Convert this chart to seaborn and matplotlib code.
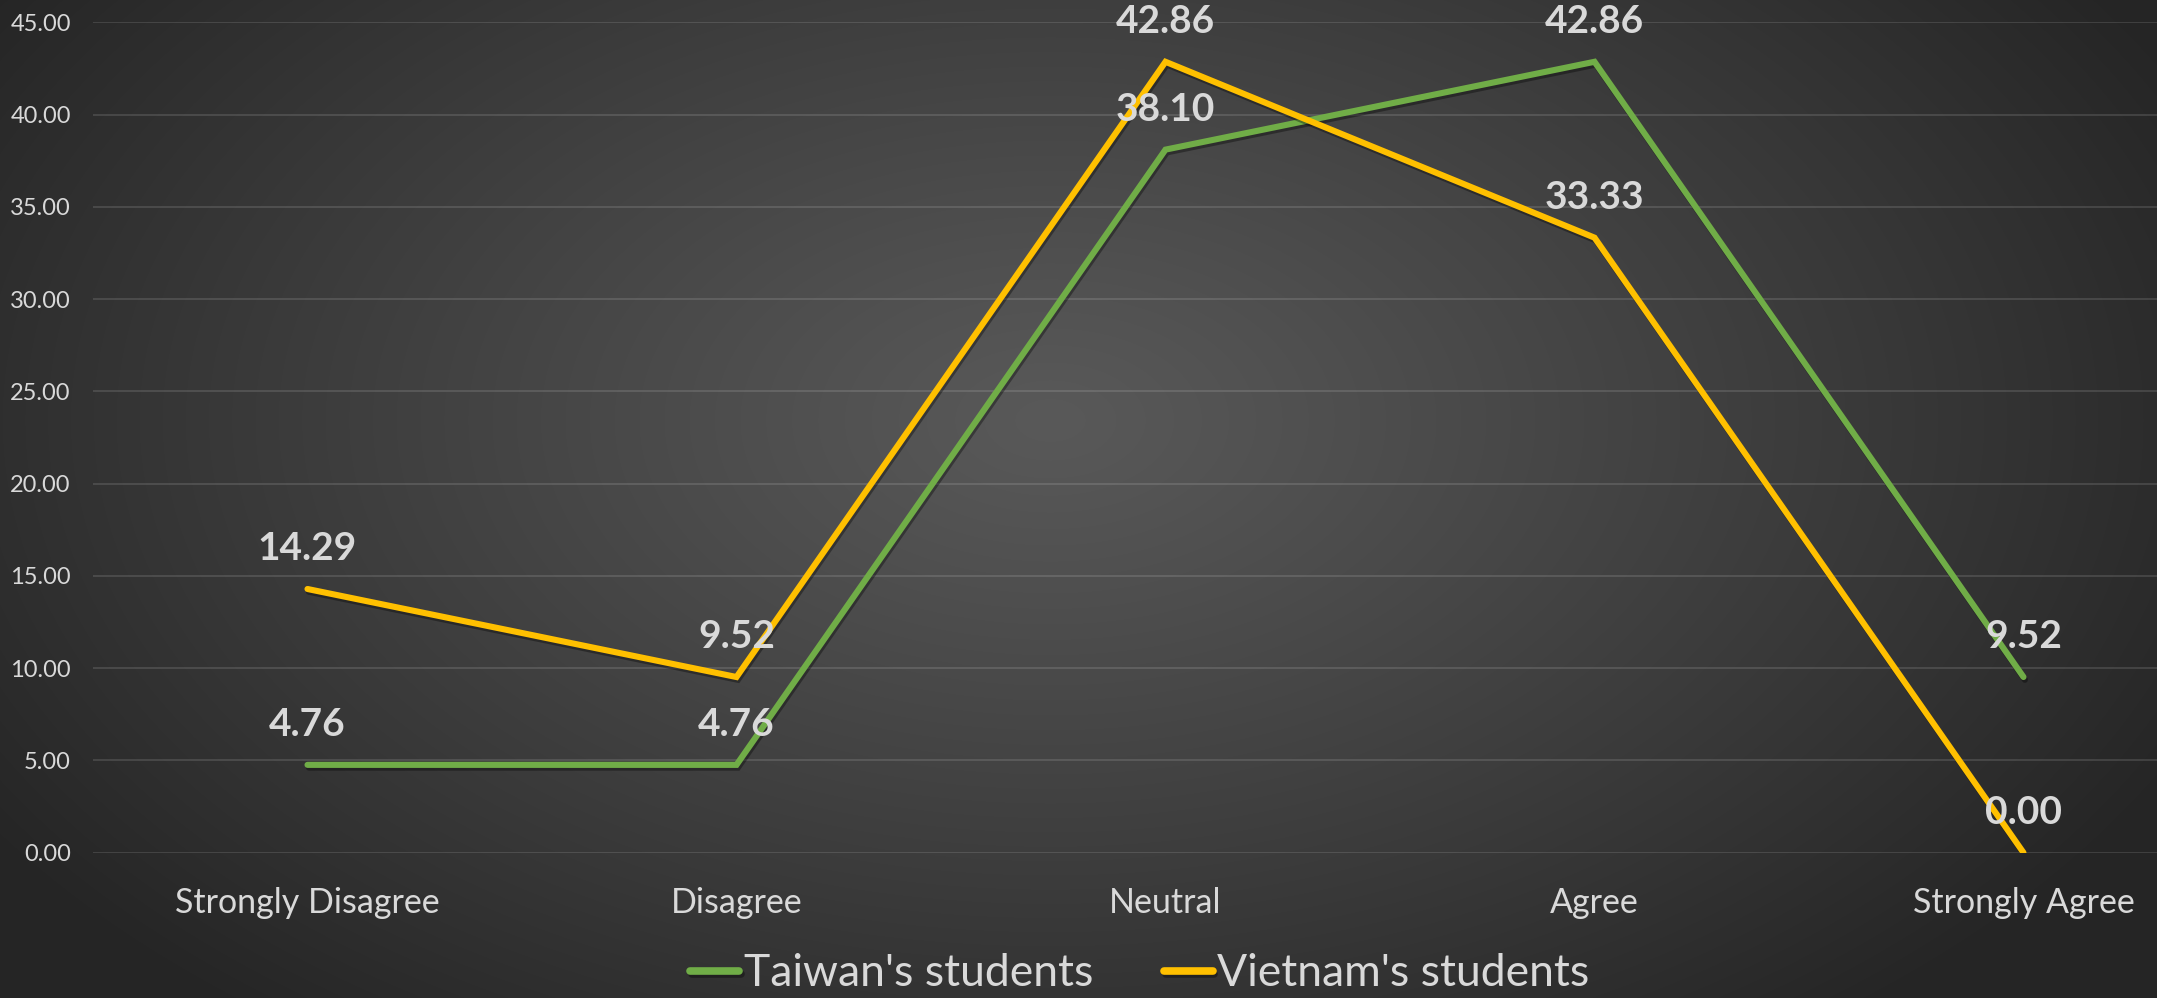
import numpy as np
import pandas as pd
import matplotlib
matplotlib.use("Agg")
import matplotlib.pyplot as plt
import matplotlib.patheffects as pe
import seaborn as sns

# data
categories = ["Strongly Disagree", "Disagree", "Neutral", "Agree", "Strongly Agree"]
taiwan = [4.76, 4.76, 38.10, 42.86, 9.52]
vietnam = [14.29, 9.52, 42.86, 33.33, 0.00]
series_names = ["Taiwan's students", "Vietnam's students"]
colors = ["#70AD47", "#FFC000"]

df = pd.DataFrame({
    "category": categories * 2,
    "x": list(range(len(categories))) * 2,
    "value": taiwan + vietnam,
    "series": [series_names[0]] * 5 + [series_names[1]] * 5,
})

sns.set_style("dark")
plt.rcParams["font.family"] = ["Lato", "DejaVu Sans"]

W, H = 2157, 998
fig = plt.figure(figsize=(W / 100, H / 100), dpi=100)

# radial gradient background
bg = fig.add_axes([0, 0, 1, 1], zorder=-10)
yy, xx = np.mgrid[0:H, 0:W]
r = np.sqrt(((xx - 1050) / 1250) ** 2 + ((yy - 420) / 760) ** 2)
r = np.clip(r, 0, 1)
c0, c1 = 0x59 / 255, 0x26 / 255
shade = c0 + (c1 - c0) * r ** 1.1
bg.imshow(np.dstack([shade] * 3), aspect="auto", extent=[0, 1, 0, 1], origin="upper")
bg.axis("off")

ax = fig.add_axes([93 / W, 145.3 / H, 2145 / W, 830.4 / H])
ax.patch.set_alpha(0)

sns.lineplot(data=df, x="x", y="value", hue="series", palette=colors,
             linewidth=4.4, ax=ax, legend=True, sort=False)
for line in ax.lines:
    line.set_solid_capstyle("round")
    line.set_solid_joinstyle("miter")
    line.set_path_effects([pe.SimpleLineShadow(offset=(1, -2), alpha=0.35, shadow_color="black"),
                           pe.Normal()])

# data labels
for vals in (taiwan, vietnam):
    for i, v in enumerate(vals):
        ax.annotate(f"{v:.2f}", (i, v), xytext=(0, 29), textcoords="offset points",
                    ha="center", va="center", fontsize=28, fontweight="bold",
                    color="#D9D9D9", zorder=5)

ax.set_xlim(-0.5, 4.5)
ax.set_ylim(0, 45)
ax.set_yticks(np.arange(0, 46, 5))
ax.set_yticklabels([f"{t:.2f}" for t in np.arange(0, 46, 5)])
ax.set_xticks(range(len(categories)))
ax.set_xticklabels(categories)
ax.tick_params(axis="y", colors="#D9D9D9", labelsize=17, length=0, pad=16)
ax.tick_params(axis="x", colors="#D9D9D9", labelsize=24.5, length=0, pad=25)
ax.grid(axis="y", color="white", alpha=0.12, linewidth=1.5)
ax.grid(axis="x", visible=False)
for s in ax.spines.values():
    s.set_visible(False)
ax.set_xlabel("")
ax.set_ylabel("")

handles, labels = ax.get_legend_handles_labels()
for h in handles:
    h.set_linewidth(5.5)
    h.set_solid_capstyle("round")
ax.legend_.remove()
fig.legend(handles, labels, loc="center", bbox_to_anchor=(1140 / W, 24 / H),
           ncol=2, frameon=False, fontsize=32, labelcolor="#D9D9D9",
           handlelength=1.1, handletextpad=0.1, columnspacing=1.6)

fig.savefig("out.png", dpi=100)
